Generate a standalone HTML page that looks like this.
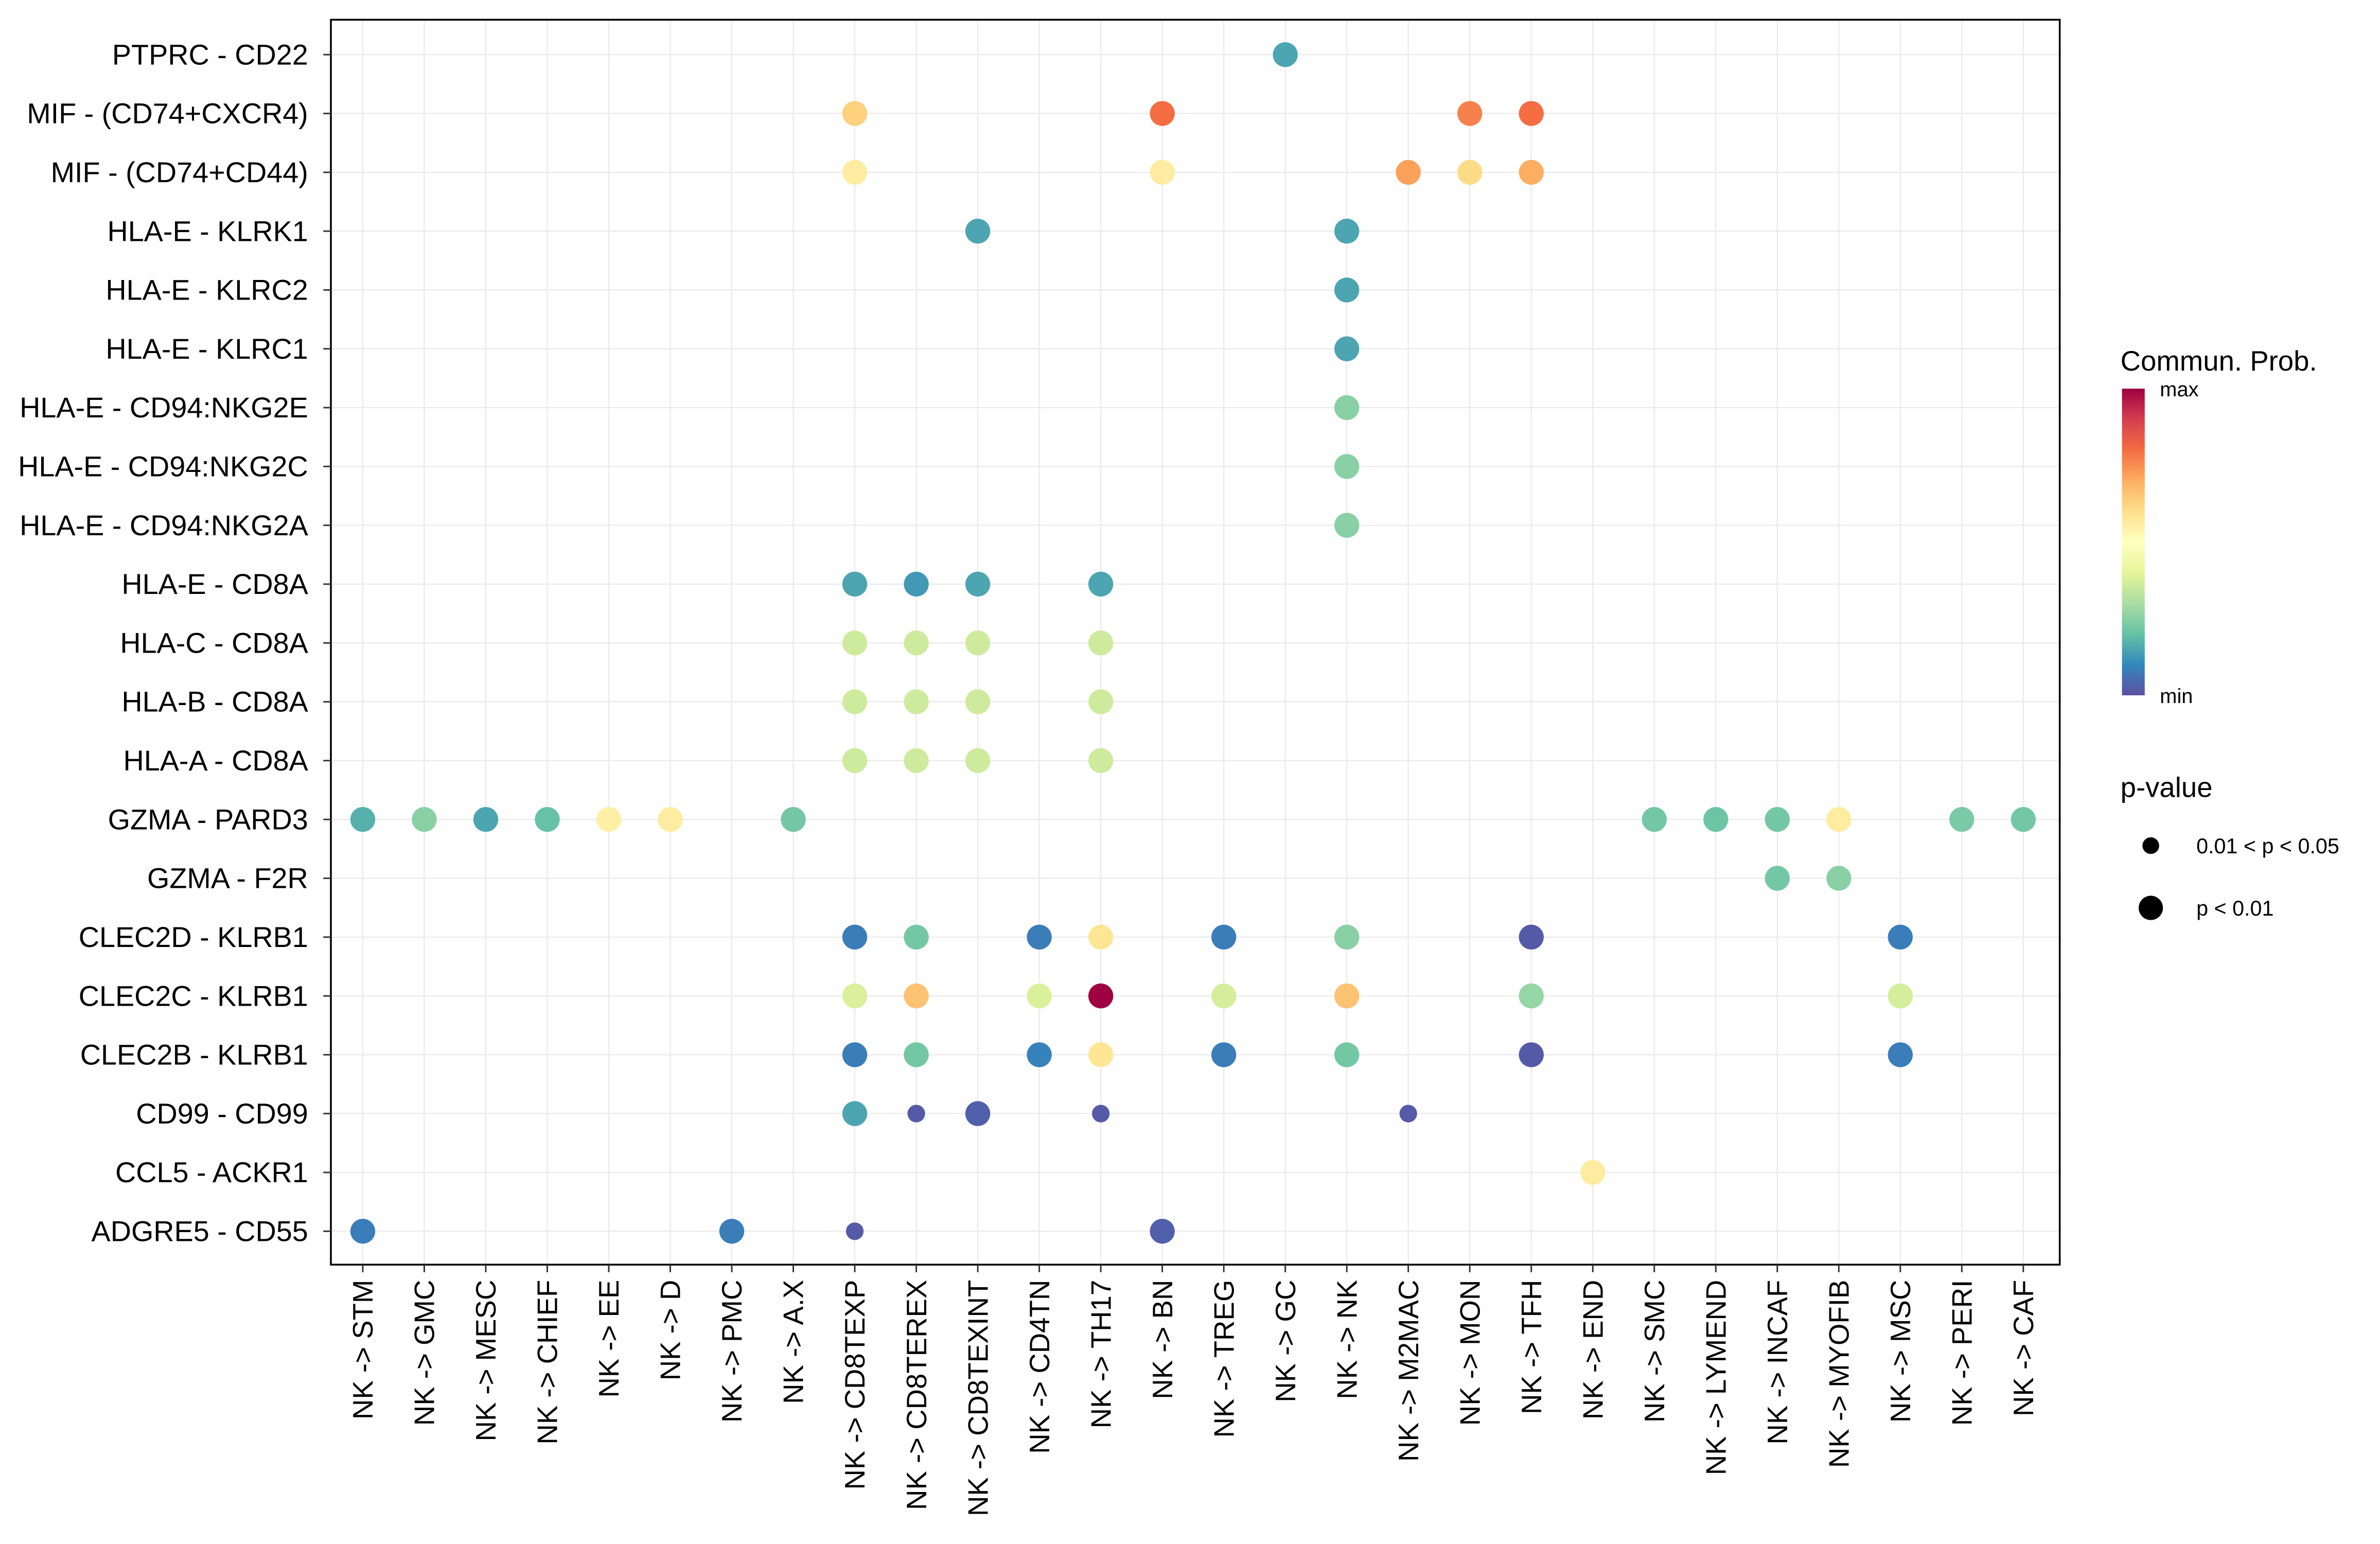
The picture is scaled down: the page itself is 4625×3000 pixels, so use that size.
<!DOCTYPE html>
<html><head><meta charset="utf-8">
<style>
html,body{margin:0;padding:0;background:#fff;}
svg{display:block;font-family:"Liberation Sans",Arial,sans-serif;}
</style></head>
<body>
<svg id="chart" width="4625" height="3000" viewBox="0 0 1568 1017" preserveAspectRatio="none" xmlns="http://www.w3.org/2000/svg">
<defs>
<linearGradient id="spec" x1="0" y1="1" x2="0" y2="0">
<stop offset="0" stop-color="#5E4FA2"/><stop offset="0.1" stop-color="#3288BD"/><stop offset="0.2" stop-color="#66C2A5"/><stop offset="0.3" stop-color="#ABDDA4"/><stop offset="0.4" stop-color="#E6F598"/><stop offset="0.5" stop-color="#FFFFBF"/><stop offset="0.6" stop-color="#FEE08B"/><stop offset="0.7" stop-color="#FDAE61"/><stop offset="0.8" stop-color="#F46D43"/><stop offset="0.9" stop-color="#D53E4F"/><stop offset="1" stop-color="#9E0142"/>
</linearGradient>
</defs>
<g id="grid"></g>
<g id="dots"></g>
<rect x="218" y="13" width="1139" height="820" fill="none" stroke="#000" stroke-width="1.2"/>
<g id="ylab"></g>
<g id="xlab"></g>
<g>
<text x="1397" y="244" font-size="18.5">Commun. Prob.</text>
<rect x="1398" y="256" width="15" height="202" fill="url(#spec)"/>
<text x="1423" y="261" font-size="13.5">max</text>
<text x="1423" y="463" font-size="13.5">min</text>
</g>
<g>
<text x="1397" y="525" font-size="18.5">p-value</text>
<circle cx="1417" cy="557" r="5.5" fill="#000"/>
<text x="1447" y="562" font-size="14">0.01 &lt; p &lt; 0.05</text>
<circle cx="1417" cy="598" r="8" fill="#000"/>
<text x="1447" y="603" font-size="14">p &lt; 0.01</text>
</g>
</svg>
<script>
const categories = ["STM","GMC","MESC","CHIEF","EE","D","PMC","A.X","CD8TEXP","CD8TEREX","CD8TEXINT","CD4TN","TH17","BN","TREG","GC","NK","M2MAC","MON","TFH","END","SMC","LYMEND","INCAF","MYOFIB","MSC","PERI","CAF"];
const pairs = ["PTPRC - CD22","MIF - (CD74+CXCR4)","MIF - (CD74+CD44)","HLA-E - KLRK1","HLA-E - KLRC2","HLA-E - KLRC1","HLA-E - CD94:NKG2E","HLA-E - CD94:NKG2C","HLA-E - CD94:NKG2A","HLA-E - CD8A","HLA-C - CD8A","HLA-B - CD8A","HLA-A - CD8A","GZMA - PARD3","GZMA - F2R","CLEC2D - KLRB1","CLEC2C - KLRB1","CLEC2B - KLRB1","CD99 - CD99","CCL5 - ACKR1","ADGRE5 - CD55"];
const pointRows = [0,1,1,1,1,2,2,2,2,2,3,3,4,5,6,7,8,9,9,9,9,10,10,10,10,11,11,11,11,12,12,12,12,13,13,13,13,13,13,13,13,13,13,13,13,13,14,14,15,15,15,15,15,15,15,15,16,16,16,16,16,16,16,16,17,17,17,17,17,17,17,17,18,18,18,18,18,19,20,20,20,20];
const pointCols = [15,8,13,18,19,8,13,17,18,19,10,16,16,16,16,16,16,8,9,10,12,8,9,10,12,8,9,10,12,8,9,10,12,0,1,2,3,4,5,7,21,22,23,24,26,27,23,24,8,9,11,12,14,16,19,25,8,9,11,12,14,16,19,25,8,9,11,12,14,16,19,25,8,9,10,12,17,20,0,6,8,13];
const pointProb = [0.15,0.63,0.8,0.77,0.8,0.56,0.56,0.72,0.61,0.7,0.15,0.15,0.15,0.15,0.25,0.25,0.25,0.15,0.13,0.15,0.15,0.36,0.36,0.36,0.36,0.36,0.36,0.36,0.36,0.36,0.36,0.36,0.36,0.17,0.25,0.15,0.2,0.55,0.56,0.22,0.22,0.21,0.22,0.56,0.23,0.22,0.22,0.25,0.08,0.22,0.08,0.58,0.08,0.25,0.02,0.08,0.38,0.66,0.38,1.0,0.37,0.66,0.27,0.37,0.08,0.22,0.09,0.58,0.08,0.22,0.02,0.08,0.15,0.02,0.03,0.02,0.02,0.56,0.08,0.08,0.02,0.03];
const pointSig = [1,1,1,1,1,1,1,1,1,1,1,1,1,1,1,1,1,1,1,1,1,1,1,1,1,1,1,1,1,1,1,1,1,1,1,1,1,1,1,1,1,1,1,1,1,1,1,1,1,1,1,1,1,1,1,1,1,1,1,1,1,1,1,1,1,1,1,1,1,1,1,1,1,0,1,0,0,1,1,1,0,1];

const NS="http://www.w3.org/2000/svg";
const x0=239, x1=1333, y0=36, y1=811;
function xScale(i){return x0+(x1-x0)*i/(categories.length-1);}
function yScale(i){return y0+(y1-y0)*i/(pairs.length-1);}
const stops=["#5E4FA2","#3288BD","#66C2A5","#ABDDA4","#E6F598","#FFFFBF","#FEE08B","#FDAE61","#F46D43","#D53E4F","#9E0142"];
function hex(c){return [1,3,5].map(k=>parseInt(c.substr(k,2),16));}
function color(v){v=Math.max(0,Math.min(1,v))*10;const i=Math.min(9,Math.floor(v)),t=v-i;const a=hex(stops[i]),b=hex(stops[i+1]);return "rgb("+a.map((q,k)=>Math.round(q+(b[k]-q)*t)).join(",")+")";}
function mk(tag,attrs,parent){const e=document.createElementNS(NS,tag);for(const k in attrs)e.setAttribute(k,attrs[k]);parent.appendChild(e);return e;}

const grid=document.getElementById('grid');
categories.forEach((c,i)=>{const l=mk('line',{x1:xScale(i),x2:xScale(i),y1:13,y2:833,stroke:'#ebebeb','stroke-width':0.8},grid);

});
pairs.forEach((p,i)=>{const l=mk('line',{x1:218,x2:1357,y1:yScale(i),y2:yScale(i),stroke:'#ebebeb','stroke-width':0.8},grid);

});

const yl=document.getElementById('ylab');
pairs.forEach((p,i)=>{const t=mk('text',{x:203,y:yScale(i)+6.5,'text-anchor':'end','font-size':18.9,fill:'#000'},yl);t.textContent=p;


const k=mk('line',{x1:213,x2:218,y1:yScale(i),y2:yScale(i),stroke:'#333','stroke-width':1},yl);

});

const xl=document.getElementById('xlab');
categories.forEach((c,i)=>{const x=xScale(i);const t=mk('text',{x:0,y:0,'text-anchor':'end','font-size':18.5,fill:'#000',transform:`translate(${x+6.5},843) rotate(-90)`},xl);t.textContent="NK -> "+c;


const k=mk('line',{x1:x,x2:x,y1:833,y2:838,stroke:'#333','stroke-width':1},xl);

});

const dots=document.getElementById('dots');
pointRows.forEach((r,i)=>{const d=mk('circle',{cx:xScale(pointCols[i]),cy:yScale(r),r:pointSig[i]?8.2:5.8,fill:color(pointProb[i])},dots);

});
</script>
</body></html>
